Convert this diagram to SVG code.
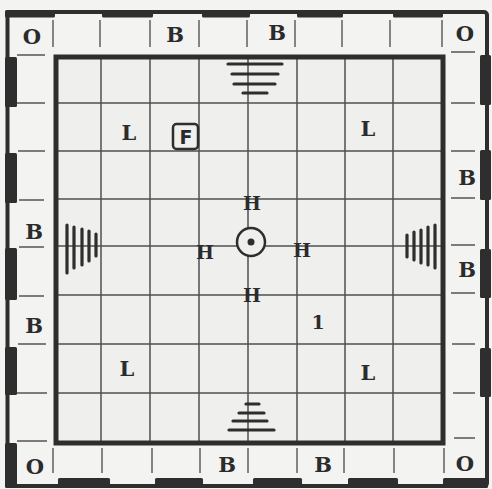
<svg xmlns="http://www.w3.org/2000/svg" width="492" height="489" viewBox="0 0 492 489">
<style>
.ink{fill:#2e2e2e}
.grid{stroke:#505050;stroke-width:1.5;fill:none}
.div{stroke:#555;stroke-width:1.4;fill:none}
.hat{stroke:#2e2e2e;stroke-width:3.2;stroke-linecap:round;fill:none}
.lbl{font-family:"DejaVu Serif","Liberation Serif",serif;font-weight:bold;fill:#2b2b2b;text-anchor:middle}
.big{font-size:21px}
.h{font-size:19px}
</style>
<rect x="0" y="0" width="492" height="489" fill="#f3f3f1"/>
<rect x="56" y="57" width="387" height="386" fill="#efefed"/>
<g id="frame">
<rect x="7.5" y="12" width="479.5" height="474" rx="3" fill="none" stroke="#2e2e2e" stroke-width="4"/>
<g class="ink">
<rect x="5" y="10" width="50" height="7.5" rx="1.5"/>
<rect x="102" y="10" width="51" height="7.5" rx="1.5"/>
<rect x="202" y="10" width="48" height="7.5" rx="1.5"/>
<rect x="297" y="10" width="46" height="7.5" rx="1.5"/>
<rect x="393" y="10" width="50" height="7.5" rx="1.5"/>
<rect x="58" y="478" width="52" height="10" rx="1.5"/>
<rect x="155" y="478" width="48" height="10" rx="1.5"/>
<rect x="253" y="478" width="49" height="10" rx="1.5"/>
<rect x="348" y="478" width="50" height="10" rx="1.5"/>
<rect x="443" y="478" width="45" height="10" rx="1.5"/>
<rect x="5" y="57" width="12" height="50" rx="1.5"/>
<rect x="5" y="153" width="12" height="50" rx="1.5"/>
<rect x="5" y="248" width="12" height="52" rx="1.5"/>
<rect x="5" y="347" width="12" height="48" rx="1.5"/>
<rect x="5" y="443" width="12" height="45" rx="1.5"/>
<rect x="480" y="55" width="11" height="50" rx="1.5"/>
<rect x="480" y="150" width="11" height="50" rx="1.5"/>
<rect x="480" y="249" width="11" height="49" rx="1.5"/>
<rect x="480" y="348" width="11" height="49" rx="1.5"/>
</g>
</g>
<g id="border-dividers" class="div">
<path d="M53 20V47M100 20V47M150 20V47M199 20V47M247 20V47M295 20V47M342 20V47M390 20V47M442 20V47"/>
<path d="M53 448V473M102 448V473M152 448V473M200 448V473M248 448V473M297 448V473M344 448V473M394 448V473M444 448V473"/>
<path d="M17 55H45M17 103H45M18 151H45M19 200H44M19 247H44M19 296H44M18 344H46M17 393H47M17 441H47"/>
<path d="M451 52H475M451 103H475M451 151H475M451 198H475M451 245H475M451 293H475M452 344H475M453 393H475M454 438H475"/>
</g>
<g id="grid" class="grid">
<path d="M101 57V443M150 57V443M199 57V443M248 57V443M297 57V443M345 57V443M393 57V443"/>
<path d="M56 103H443M56 151H443M56 199H443M56 246H443M56 295H443M56 344H443M56 393H443"/>
</g>
<rect id="inner-wall" x="56" y="57" width="387" height="386" fill="none" stroke="#2e2e2e" stroke-width="5"/>
<g id="gate-top" class="hat">
<path d="M228 64H282M232 74H278M234 84H275M243 93H267"/>
</g>
<g id="gate-bottom" class="hat">
<path d="M246 404H259M239 413H264M233 421H267M229 430H274"/>
</g>
<g id="gate-left" class="hat">
<path d="M67 225V273M74 227V268M82 229V265M89 231V261M96 234V256"/>
</g>
<g id="gate-right" class="hat">
<path d="M407 235V257M414 232V260M421 230V263M428 227V265M435 225V268"/>
</g>
<g id="border-labels" class="lbl big">
<g id="o-tl"><text x="32" y="44">O</text></g>
<g id="b-t1"><text x="175" y="42">B</text></g>
<g id="b-t2"><text x="277" y="40">B</text></g>
<g id="o-tr"><text x="465" y="41">O</text></g>
<g id="b-l1"><text x="34" y="239">B</text></g>
<g id="b-l2"><text x="34" y="333">B</text></g>
<g id="b-r1"><text x="467" y="185">B</text></g>
<g id="b-r2"><text x="467" y="277">B</text></g>
<g id="o-bl"><text x="35" y="474">O</text></g>
<g id="b-b1"><text x="227" y="472">B</text></g>
<g id="b-b2"><text x="323" y="472">B</text></g>
<g id="o-br"><text x="465" y="471">O</text></g>
</g>
<g id="pieces" class="lbl">
<g id="l-tl"><text class="big" x="129" y="140">L</text></g>
<g id="l-tr"><text class="big" x="368" y="136">L</text></g>
<g id="l-bl"><text class="big" x="127" y="376">L</text></g>
<g id="l-br"><text class="big" x="368" y="380">L</text></g>
<g id="f-box">
<rect x="173" y="124" width="25" height="25" rx="3.5" fill="none" stroke="#2e2e2e" stroke-width="2.5"/>
<text x="186" y="144" style="font-family:'DejaVu Sans',sans-serif;font-size:19px">F</text>
</g>
<g id="h-top"><text class="h" x="252" y="210">H</text></g>
<g id="h-left"><text class="h" x="205" y="259">H</text></g>
<g id="h-right"><text class="h" x="302" y="257">H</text></g>
<g id="h-bottom"><text class="h" x="252" y="302">H</text></g>
<g id="one"><text x="318" y="329" style="font-size:19px">1</text></g>
<g id="throne">
<circle cx="251" cy="242" r="14" fill="#efefed" stroke="#2e2e2e" stroke-width="2.5"/>
<circle cx="251" cy="242" r="3.5" fill="#2e2e2e"/>
</g>
</g>
</svg>
